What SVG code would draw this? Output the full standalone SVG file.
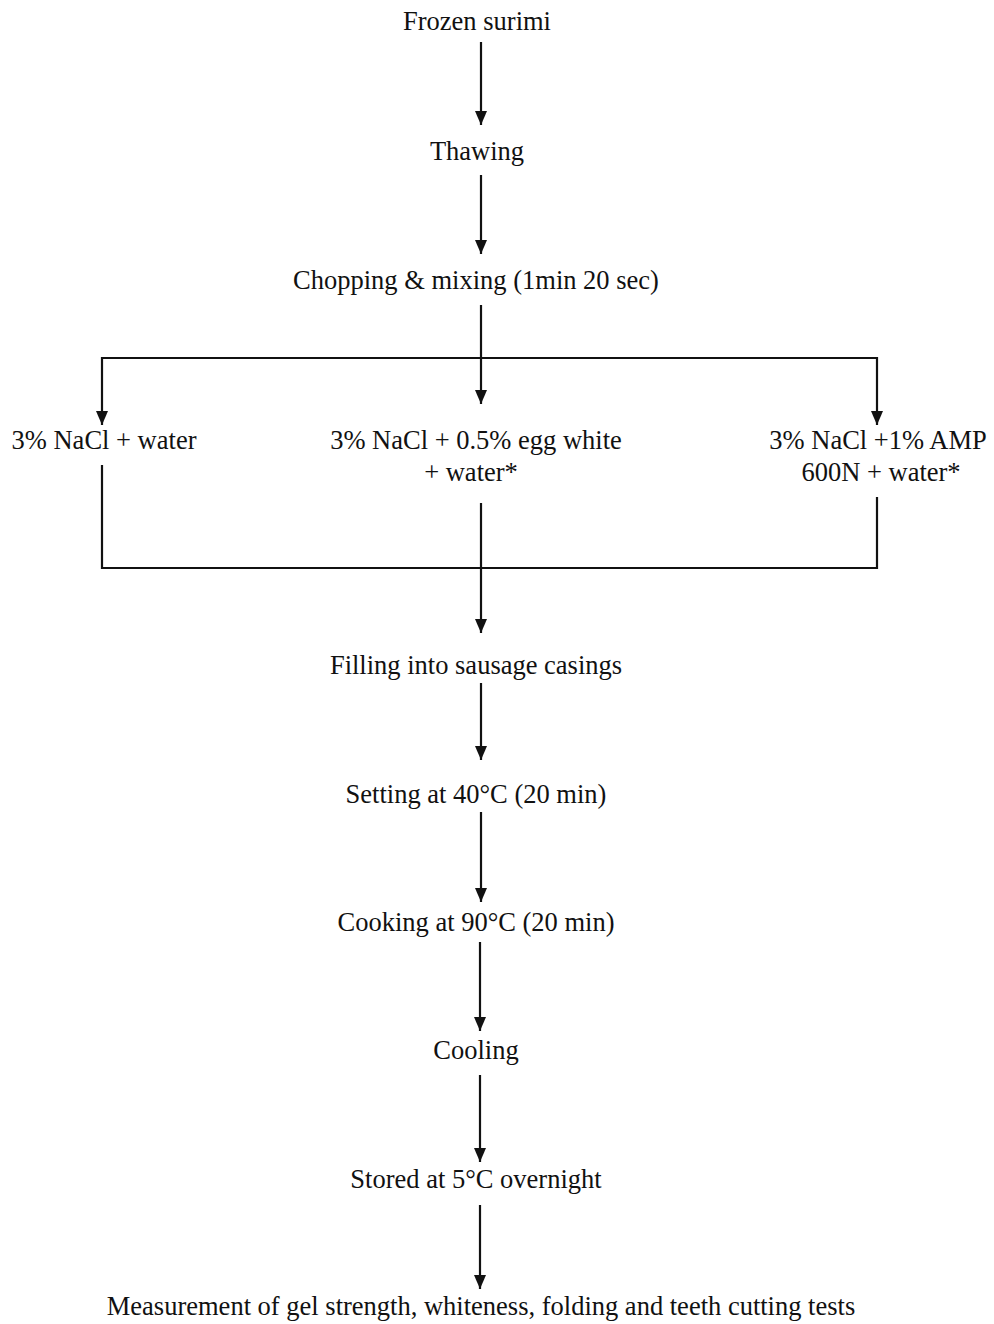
<svg xmlns="http://www.w3.org/2000/svg" width="994" height="1324" viewBox="0 0 994 1324">
<style>
text{font-family:"Liberation Serif","Times New Roman",serif;font-size:26.5px;fill:#111;text-anchor:middle}
.c{stroke:#111;stroke-width:2.2;fill:none}
</style>
<defs>
<marker id="a" markerWidth="14" markerHeight="12" refX="14" refY="6" orient="auto" markerUnits="userSpaceOnUse" viewBox="0 0 14 12">
<path d="M0,0 L14,6 L0,12 Z" fill="#111"/>
</marker>
</defs>
<rect width="994" height="1324" fill="#fff"/>
<g id="connectors">
<line class="c" x1="481" y1="42" x2="481" y2="125" marker-end="url(#a)"/>
<line class="c" x1="481" y1="175" x2="481" y2="254" marker-end="url(#a)"/>
<line class="c" x1="481" y1="305" x2="481" y2="404" marker-end="url(#a)"/>
<line class="c" x1="101" y1="358" x2="878" y2="358"/>
<line class="c" x1="102" y1="357" x2="102" y2="425" marker-end="url(#a)"/>
<line class="c" x1="877" y1="357" x2="877" y2="425" marker-end="url(#a)"/>
<polyline class="c" points="102,465 102,568 877,568 877,497"/>
<line class="c" x1="481" y1="503" x2="481" y2="633" marker-end="url(#a)"/>
<line class="c" x1="481" y1="683" x2="481" y2="760" marker-end="url(#a)"/>
<line class="c" x1="481" y1="812" x2="481" y2="902" marker-end="url(#a)"/>
<line class="c" x1="480" y1="942" x2="480" y2="1031" marker-end="url(#a)"/>
<line class="c" x1="480" y1="1075" x2="480" y2="1162" marker-end="url(#a)"/>
<line class="c" x1="480" y1="1205" x2="480" y2="1289" marker-end="url(#a)"/>
</g>
<g id="n1"><text x="477" y="30">Frozen surimi</text></g>
<g id="n2"><text x="477" y="160">Thawing</text></g>
<g id="n3"><text x="476" y="289">Chopping &amp; mixing (1min 20 sec)</text></g>
<g id="n4"><text x="104" y="449">3% NaCl + water</text></g>
<g id="n5"><text x="476" y="449">3% NaCl + 0.5% egg white</text><text x="471" y="481">+ water*</text></g>
<g id="n6"><text x="878" y="449">3% NaCl +1% AMP</text><text x="881" y="481">600N + water*</text></g>
<g id="n7"><text x="476" y="674">Filling into sausage casings</text></g>
<g id="n8"><text x="476" y="803">Setting at 40°C (20 min)</text></g>
<g id="n9"><text x="476" y="931">Cooking at 90°C (20 min)</text></g>
<g id="n10"><text x="476" y="1059">Cooling</text></g>
<g id="n11"><text x="476" y="1188">Stored at 5°C overnight</text></g>
<g id="n12"><text x="481" y="1315">Measurement of gel strength, whiteness, folding and teeth cutting tests</text></g>
</svg>
